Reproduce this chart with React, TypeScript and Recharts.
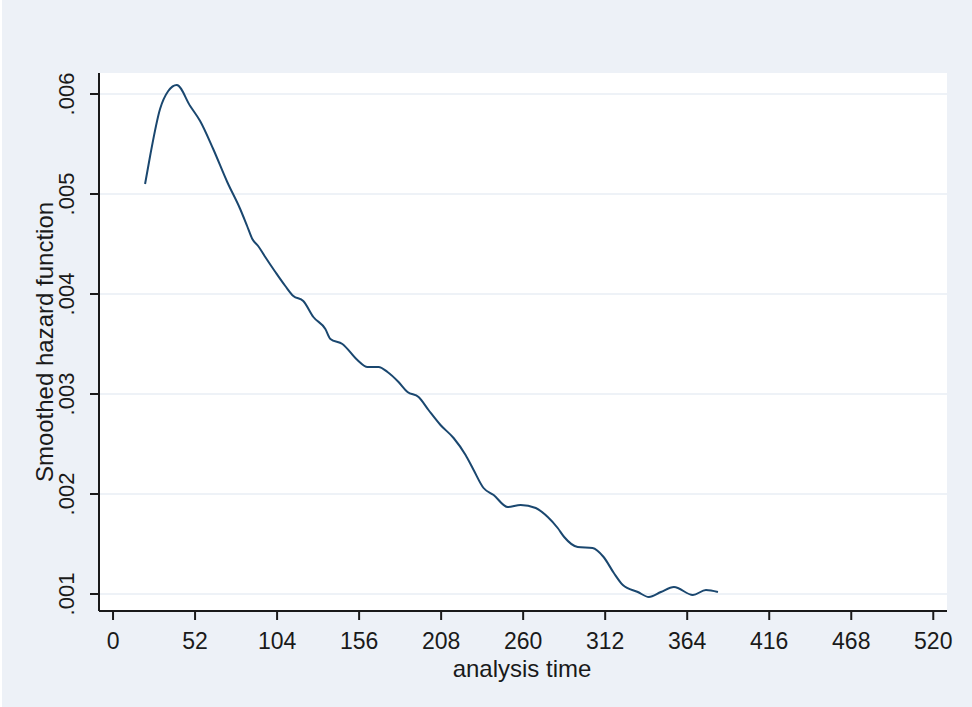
import React from 'react';
import { LineChart, Line, XAxis, YAxis, CartesianGrid, Label } from 'recharts';

// analysis time (weeks) and smoothed hazard estimate at each time
const times = [
  20.3, 23.5, 29.8, 35, 40.4, 48.9, 55.2, 63.5, 72.4, 80.6, 85, 88.3, 92, 96.5, 102.9,
  109.2, 114.3, 120.6, 127, 134.6, 137.8, 145.4, 154.9, 161.3, 168.3, 174, 181, 186.7,
  193.7, 200, 207.6, 215.9, 223.5, 228.6, 234.9, 241.3, 250.2, 258.4, 268, 275.6, 281.9,
  286, 294.6, 304, 311, 317.5, 323.2, 332.7, 339.7, 347.3, 355.6, 367.6, 375.9, 383.5,
];
const hazard = [
  0.0051, 0.00538, 0.00585, 0.00603, 0.00609, 0.00588, 0.00573, 0.00545, 0.00512, 0.00485,
  0.00468, 0.00455, 0.00448, 0.00437, 0.00422, 0.00408, 0.00398, 0.00393, 0.00377, 0.00365,
  0.00355, 0.0035, 0.00334, 0.00327, 0.00327, 0.00322, 0.00312, 0.00302, 0.00297, 0.00284,
  0.00269, 0.00256, 0.00239, 0.00224, 0.00206, 0.00199, 0.00187, 0.00189, 0.00186, 0.00177,
  0.00166, 0.00157, 0.00147, 0.00146, 0.00137, 0.00121, 0.00109, 0.00102, 0.00097, 0.00102,
  0.00107, 0.00099, 0.00104, 0.00102,
];
const xTicks = [0, 52, 104, 156, 208, 260, 312, 364, 416, 468, 520];
const yTicks = [0.001, 0.002, 0.003, 0.004, 0.005, 0.006];

const data = times.map((t, i) => ({ t, h: hazard[i] }));

const FONT = '"Liberation Sans", Arial, sans-serif';
const BG = '#EDF1F7';
const INK = '#1a1a1a';

const YTick = (props: any) => {
  const { x, y, payload } = props;
  const tx = x - 14;
  const label = payload.value.toFixed(3).replace(/^0/, '');
  return (
    <text x={tx} y={y} transform={`rotate(-90 ${tx} ${y})`} textAnchor="middle" fontFamily={FONT} fontSize={22} fill={INK}>
      {label}
    </text>
  );
};

const XTick = (props: any) => {
  const { x, y, payload } = props;
  return (
    <text x={x} y={y + 27} textAnchor="middle" fontFamily={FONT} fontSize={23} fill={INK}>
      {payload.value}
    </text>
  );
};

export default function App() {
  return (
    <div style={{ position: 'fixed', left: 0, top: 0, width: 972, height: 707, background: BG, borderLeft: '2px solid #fff', boxSizing: 'border-box' }}>
      <LineChart width={970} height={707} data={data} margin={{ top: 73, right: 25, bottom: 0, left: 0 }}>
        <CartesianGrid vertical={false} fill="#fff" stroke="#E8EEF5" strokeWidth={1.5} horizontalValues={yTicks} />
        <XAxis
          type="number"
          dataKey="t"
          domain={[-8.9, 528.7]}
          ticks={xTicks}
          allowDataOverflow
          height={96}
          tickSize={9}
          tickMargin={2}
          tick={<XTick />}
          axisLine={{ stroke: INK, strokeWidth: 2 }}
          tickLine={{ stroke: INK, strokeWidth: 2 }}
        >
          <Label
            content={() => (
              <text x={520} y={677} textAnchor="middle" fontFamily={FONT} fontSize={24} fill={INK}>
                analysis time
              </text>
            )}
          />
        </XAxis>
        <YAxis
          type="number"
          domain={[0.00083, 0.00621]}
          ticks={yTicks}
          allowDataOverflow
          width={97}
          tickSize={9}
          tickMargin={2}
          tick={<YTick />}
          axisLine={{ stroke: INK, strokeWidth: 2 }}
          tickLine={{ stroke: INK, strokeWidth: 2 }}
        >
          <Label
            content={() => (
              <text x={51} y={342} transform="rotate(-90 51 342)" textAnchor="middle" fontFamily={FONT} fontSize={24} fill={INK}>
                Smoothed hazard function
              </text>
            )}
          />
        </YAxis>
        <Line
          type="monotone"
          dataKey="h"
          stroke="#1A476F"
          strokeWidth={2}
          dot={false}
          isAnimationActive={false}
        />
      </LineChart>
    </div>
  );
}
